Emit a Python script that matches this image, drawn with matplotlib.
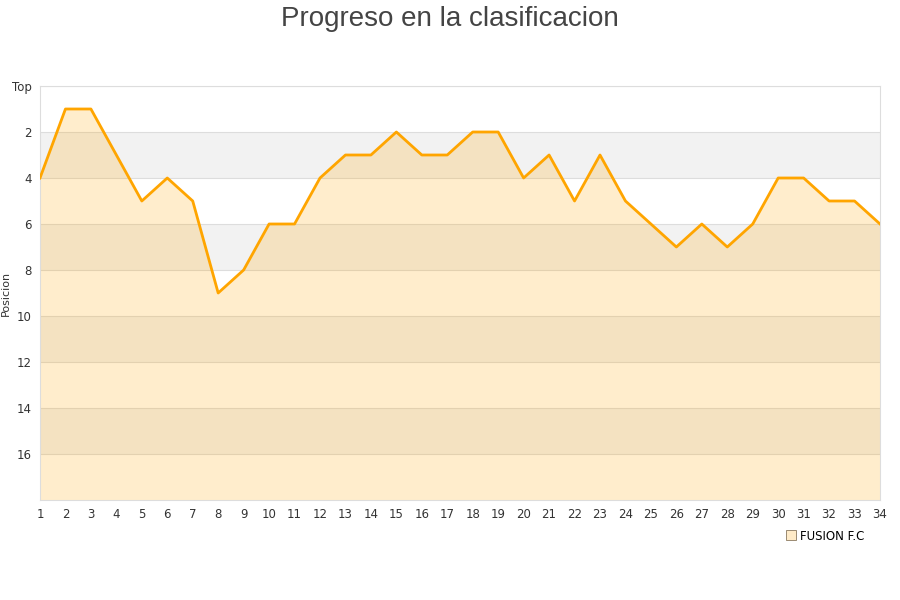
import matplotlib.pyplot as plt
from matplotlib.lines import Line2D

# Jornadas y posicion del equipo
jornadas = list(range(1, 35))
posicion = [4, 1, 1, 3, 5, 4, 5, 9, 8, 6, 6, 4, 3, 3, 2, 3, 3, 2, 2, 4,
            3, 5, 3, 5, 6, 7, 6, 7, 6, 4, 4, 5, 5, 6]
equipo = 'FUSION F.C'
y_ticks = [0, 2, 4, 6, 8, 10, 12, 14, 16]
y_labels = ['Top', '2', '4', '6', '8', '10', '12', '14', '16']

fig = plt.figure(figsize=(9, 6), dpi=100)
ax = fig.add_axes([40 / 900, 100 / 600, 840 / 900, 414 / 600])

# bandas alternas
for lo in range(2, 18, 4):
    ax.axhspan(lo, lo + 2, color='#f2f2f2', zorder=0, lw=0)
for y in y_ticks:
    ax.axhline(y, color='#dddddd', lw=0.8, zorder=1)

ax.fill_between(jornadas, posicion, 18, color='#ffa500', alpha=0.2, lw=0, zorder=2)
ax.plot(jornadas, posicion, color='#ffa500', lw=2, zorder=3)

ax.set_xlim(1, 34)
ax.set_ylim(18, 0)
ax.set_xticks(jornadas)
ax.set_yticks(y_ticks)
ax.set_yticklabels(y_labels)
ax.tick_params(length=0, labelsize=8.5, colors='#333333', pad=6)
ax.set_ylabel('Posicion', fontsize=8, color='#333333')
ax.yaxis.set_label_coords(-29 / 840, 0.5)
for s in ax.spines.values():
    s.set_color('#dddddd')

fig.suptitle('Progreso en la clasificacion', fontsize=20, color='#444444', y=0.99,
             family='Liberation Sans')

handle = Line2D([], [], marker='s', ls='', markersize=7,
                markerfacecolor='#ffebc8', markeredgecolor='#8a7a60', markeredgewidth=0.6)
fig.legend([handle], [equipo], loc='center', bbox_to_anchor=(825 / 900, 1 - 536 / 600),
           frameon=False, fontsize=8.5, handletextpad=0.3, handlelength=1)

plt.savefig('out.png')
